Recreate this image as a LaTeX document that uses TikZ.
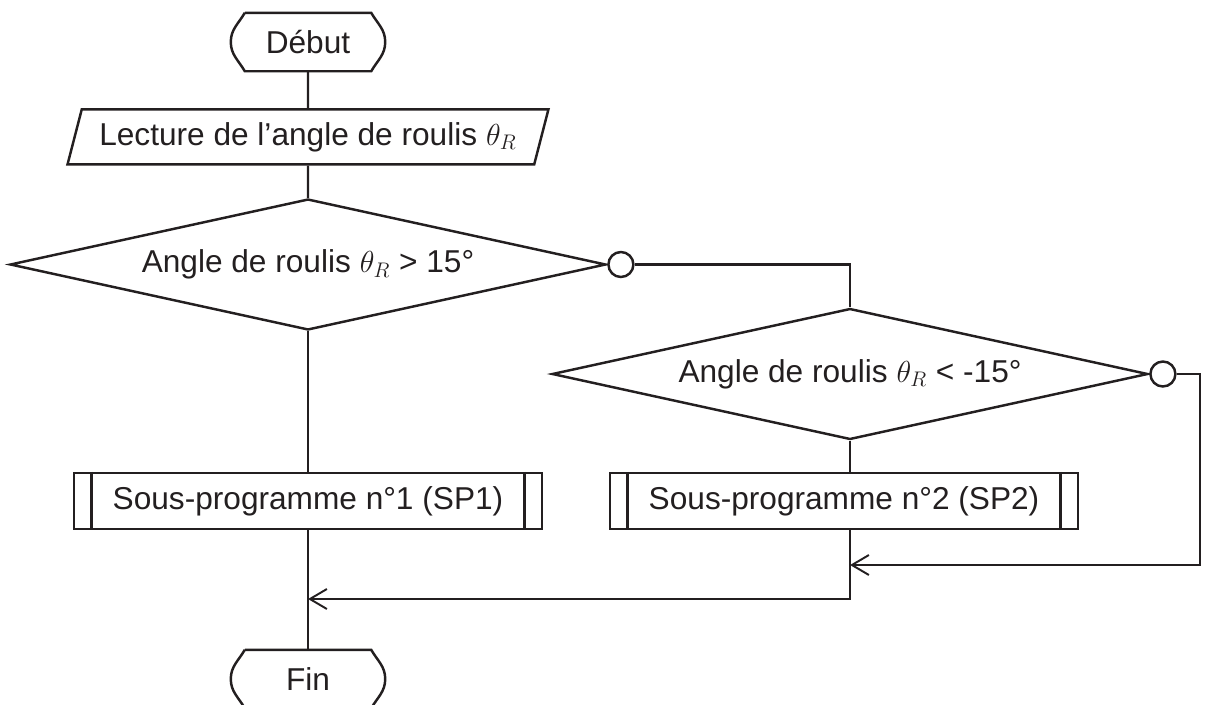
\documentclass[tikz,border=0pt]{standalone}
\usepackage{fontspec}
\setmainfont{Liberation Sans}
\usepackage{tikz}
\usetikzlibrary{arrows.meta,positioning,shapes.geometric}
\definecolor{ink}{HTML}{231F20}

\begin{document}
\begin{tikzpicture}[x=0.02cm,y=0.02cm,>={Straight Barb[length=0.34cm,width=0.4cm]},
  line width=1.4pt,color=ink,font=\fontsize{18}{21}\selectfont,
  term node/.style={minimum width=3.04cm,minimum height=1.12cm,inner sep=0pt},
  io node/.style={trapezium,draw,trapezium left angle=66,trapezium right angle=114,
    trapezium stretches=true,minimum width=9.64cm,minimum height=1.1cm,inner sep=0pt},
  test node/.style={diamond,draw,aspect=4.55,minimum width=11.92cm,minimum height=2.62cm,inner sep=0pt},
  sub node/.style={rectangle,draw,minimum width=9.36cm,minimum height=1.12cm,inner sep=0pt},
  join node/.style={circle,draw,fill=white,minimum size=0.5cm,inner sep=0pt}]
  \useasboundingbox (0,0) rectangle (1209,-704);

  \node[term node] (debut) at (308,-42) {Début};
  \node[io node,below=0.74cm of debut] (lecture) {Lecture de l’angle de roulis $\theta_R$};
  \node[test node] (test1) at (308,-264.5) {Angle de roulis $\theta_R$ > 15°};
  \node[join node,right=0pt of test1] (rond1) {};
  \node[test node] (test2) at (850,-374) {Angle de roulis $\theta_R$ < -15°};
  \node[join node,right=0pt of test2] (rond2) {};
  \node[sub node] (sp1) at (308,-501) {Sous-programme n°1 (SP1)};
  \node[sub node] (sp2) at (844,-501) {Sous-programme n°2 (SP2)};
  \node[term node] (fin) at (308,-679) {Fin};

  % terminal outlines
  \foreach \t in {debut,fin}
    \draw ([xshift=0.28cm]\t.north west) -- ([xshift=-0.28cm]\t.north east)
      to[out=-60,in=90] (\t.east) to[out=-90,in=60] ([xshift=-0.28cm]\t.south east)
      -- ([xshift=0.28cm]\t.south west) to[out=120,in=-90] (\t.west)
      to[out=90,in=-120] ([xshift=0.28cm]\t.north west);

  % subroutine side bars
  \foreach \s in {sp1,sp2} {
    \draw ([xshift=0.37cm]\s.north west) -- ([xshift=0.37cm]\s.south west);
    \draw ([xshift=-0.37cm]\s.north east) -- ([xshift=-0.37cm]\s.south east);
  }

  \coordinate (coin2) at (1200,-565);
  \coordinate (retour2) at (850,-565);
  \coordinate (retour1) at (308,-599);

  \draw (debut) -- (lecture);
  \draw (lecture) -- (test1);
  \draw (test1) -- (sp1);
  \draw (sp1) -- (fin);
  \draw (rond1) -| (test2);
  \draw (test2.south) -- (test2.south |- sp2.north);
  \draw[->,line width=1.1pt] (rond2) -| (coin2) -- (retour2);
  \draw[->,line width=1.1pt] (test2.south |- sp2.south) |- (retour1);
\end{tikzpicture}
\end{document}
